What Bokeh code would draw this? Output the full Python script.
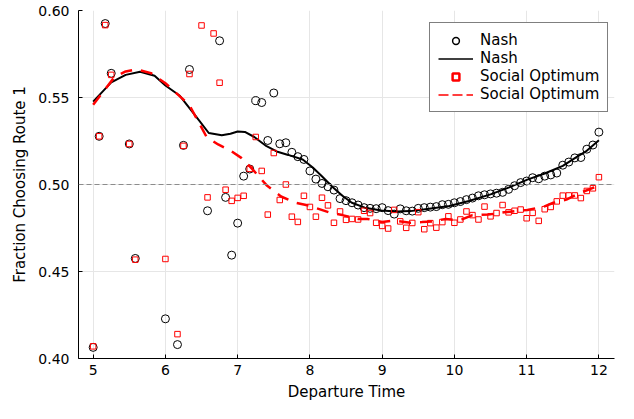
import math
from bokeh.plotting import figure
from bokeh.models import (Range1d, FixedTicker, Span, Legend, LegendItem,
                          ColumnDataSource, NumeralTickFormatter)
from bokeh.embed import file_html
from bokeh.resources import INLINE

# ---- data ----
nash_t = [5.000, 5.083, 5.167, 5.250, 5.500, 5.583, 6.000, 6.167, 6.250, 6.333,
          6.583, 6.750, 6.833, 6.917, 7.000, 7.083, 7.167, 7.250, 7.333, 7.417,
          7.500, 7.583, 7.667, 7.750, 7.833, 7.917, 8.000, 8.083, 8.167, 8.250,
          8.333, 8.417, 8.500, 8.583, 8.667, 8.750, 8.833, 8.917, 9.000, 9.083,
          9.167, 9.250, 9.333, 9.417, 9.500, 9.583, 9.667, 9.750, 9.833, 9.917,
          10.000, 10.083, 10.167, 10.250, 10.333, 10.417, 10.500, 10.583, 10.667, 10.750,
          10.833, 10.917, 11.000, 11.083, 11.167, 11.250, 11.333, 11.417, 11.500, 11.583,
          11.667, 11.750, 11.833, 11.917, 12.000]
nash_v = [0.4064, 0.5277, 0.5925, 0.5639, 0.5233, 0.4575, 0.4228, 0.4080, 0.5225, 0.5661,
          0.4849, 0.5826, 0.4926, 0.4594, 0.4778, 0.5048, 0.5089, 0.5482, 0.5471, 0.5253,
          0.5526, 0.5234, 0.5240, 0.5185, 0.5160, 0.5144, 0.5078, 0.5031, 0.5006, 0.4987,
          0.4968, 0.4919, 0.4907, 0.4895, 0.4882, 0.4867, 0.4863, 0.4861, 0.4867, 0.4850,
          0.4830, 0.4860, 0.4849, 0.4847, 0.4863, 0.4867, 0.4870, 0.4873, 0.4884, 0.4886,
          0.4895, 0.4902, 0.4913, 0.4922, 0.4935, 0.4941, 0.4946, 0.4950, 0.4955, 0.4972,
          0.4993, 0.5011, 0.5020, 0.5039, 0.5033, 0.5048, 0.5055, 0.5066, 0.5111, 0.5129,
          0.5153, 0.5155, 0.5203, 0.5227, 0.5301]

so_t = [5.000, 5.083, 5.167, 5.250, 5.500, 5.583, 6.000, 6.167, 6.250, 6.333,
        6.500, 6.583, 6.667, 6.750, 6.833, 6.917, 7.000, 7.083, 7.167, 7.250,
        7.333, 7.417, 7.500, 7.583, 7.667, 7.750, 7.833, 7.917, 8.000, 8.083,
        8.167, 8.250, 8.333, 8.417, 8.500, 8.583, 8.667, 8.750, 8.833, 8.917,
        9.000, 9.083, 9.167, 9.250, 9.333, 9.417, 9.500, 9.583, 9.667, 9.750,
        9.833, 9.917, 10.000, 10.083, 10.167, 10.250, 10.333, 10.417, 10.500, 10.583,
        10.667, 10.750, 10.833, 10.917, 11.000, 11.083, 11.167, 11.250, 11.333, 11.417,
        11.500, 11.583, 11.667, 11.750, 11.833, 11.917, 12.000]
so_v = [0.4070, 0.5277, 0.5916, 0.5630, 0.5233, 0.4568, 0.4572, 0.4140, 0.5222, 0.5635,
        0.5914, 0.4926, 0.5868, 0.5585, 0.4970, 0.4906, 0.4923, 0.4935, 0.5090, 0.5273,
        0.5078, 0.4827, 0.5181, 0.4911, 0.5000, 0.4815, 0.4785, 0.4935, 0.4871, 0.4815,
        0.4924, 0.4880, 0.4780, 0.4845, 0.4797, 0.4802, 0.4799, 0.4849, 0.4836, 0.4780,
        0.4762, 0.4747, 0.4854, 0.4788, 0.4751, 0.4779, 0.4841, 0.4743, 0.4778, 0.4752,
        0.4784, 0.4817, 0.4780, 0.4799, 0.4845, 0.4824, 0.4799, 0.4873, 0.4817, 0.4836,
        0.4882, 0.4840, 0.4849, 0.4856, 0.4806, 0.4837, 0.4791, 0.4858, 0.4871, 0.4903,
        0.4936, 0.4937, 0.4937, 0.4922, 0.4963, 0.4978, 0.5042]

nash_curve_t = [5.00, 5.25, 5.45, 5.65, 5.85, 6.00, 6.20, 6.42, 6.60, 6.78,
                6.90, 7.00, 7.10, 7.23, 7.40, 7.54, 7.70, 7.90, 8.04, 8.18,
                8.31, 8.45, 8.58, 8.76, 8.99, 9.20, 9.39, 9.65, 9.93, 10.20,
                10.50, 10.75, 11.01, 11.25, 11.50, 11.70, 11.82, 12.00]
nash_curve_v = [0.5476, 0.5587, 0.5630, 0.5648, 0.5625, 0.5569, 0.5510, 0.5393, 0.5296, 0.5283,
                0.5292, 0.5305, 0.5302, 0.5273, 0.5220, 0.5190, 0.5170, 0.5144, 0.5098, 0.5042,
                0.4987, 0.4935, 0.4895, 0.4867, 0.4850, 0.4845, 0.4847, 0.4860, 0.4876, 0.4905,
                0.4943, 0.4982, 0.5028, 0.5063, 0.5107, 0.5160, 0.5190, 0.5255]

so_curve_t = [5.00, 5.29, 5.45, 5.60, 5.80, 6.00, 6.33, 6.57, 6.73, 6.90,
              7.05, 7.20, 7.40, 7.60, 7.80, 8.00, 8.27, 8.45, 8.67, 8.80,
              9.00, 9.17, 9.39, 9.55, 9.70, 9.88, 10.07, 10.25, 10.47, 10.69,
              11.01, 11.24, 11.37, 11.55, 11.73, 11.96]
so_curve_v = [0.5458, 0.5615, 0.5650, 0.5662, 0.5640, 0.5582, 0.5458, 0.5273, 0.5230, 0.5195,
              0.5153, 0.5090, 0.4996, 0.4931, 0.4895, 0.4877, 0.4839, 0.4824, 0.4802, 0.4802,
              0.4784, 0.4793, 0.4780, 0.4784, 0.4788, 0.4802, 0.4793, 0.4824, 0.4827, 0.4840,
              0.4854, 0.4873, 0.4895, 0.4913, 0.4950, 0.4987]

x_ticks = [5, 6, 7, 8, 9, 10, 11, 12]
y_ticks = [0.40, 0.45, 0.50, 0.55, 0.60]
ref_level = 0.5
x_label = "Departure Time"
y_label = "Fraction Choosing Route 1"
nash_label = "Nash"
so_label = "Social Optimum"

FONT = "DejaVu Sans"

p = figure(width=618, height=403, output_backend="svg", toolbar_location=None,
           x_range=Range1d(4.797, 12.216), y_range=Range1d(0.4, 0.6))
p.min_border_left = 78
p.min_border_right = 4
p.min_border_top = 10
p.min_border_bottom = 40
p.outline_line_color = None
p.background_fill_color = "white"
p.border_fill_color = "white"

# grid
for g in (p.xgrid, p.ygrid):
    g.grid_line_color = "#e6e6e6"
    g.grid_line_width = 1
p.xgrid.ticker = FixedTicker(ticks=x_ticks)
p.ygrid.ticker = FixedTicker(ticks=y_ticks)

# axes
p.xaxis.ticker = FixedTicker(ticks=x_ticks)
p.yaxis.ticker = FixedTicker(ticks=y_ticks)
p.yaxis.formatter = NumeralTickFormatter(format="0.00")
for ax in (p.xaxis, p.yaxis):
    ax.axis_line_color = "black"
    ax.axis_line_width = 1
    ax.major_tick_in = 4
    ax.major_tick_out = 0
    ax.minor_tick_line_color = None
    ax.major_tick_line_color = "black"
    ax.major_label_text_font = FONT
    ax.major_label_text_font_size = "14px"
    ax.major_label_text_color = "black"
    ax.axis_label_text_font = FONT
    ax.axis_label_text_font_size = "15px"
    ax.axis_label_text_font_style = "normal"
    ax.axis_label_text_color = "black"
p.xaxis.axis_label = x_label
p.yaxis.axis_label = y_label
p.xaxis.major_label_standoff = 6
p.xaxis.axis_label_standoff = 5
p.yaxis.major_label_standoff = 9
p.yaxis.axis_label_standoff = 6

# reference line
p.add_layout(Span(location=ref_level, dimension="width", line_color="#8c8c8c",
                  line_width=1, line_dash="5 3"))

src_n = ColumnDataSource(data=dict(t=nash_t, v=nash_v))
src_s = ColumnDataSource(data=dict(t=so_t, v=so_v))
src_nc = ColumnDataSource(data=dict(t=nash_curve_t, v=nash_curve_v))
src_sc = ColumnDataSource(data=dict(t=so_curve_t, v=so_curve_v))

p.scatter("t", "v", source=src_n, marker="circle", size=8, fill_color=None,
          line_color="black", line_width=1)
p.line("t", "v", source=src_nc, line_color="black", line_width=2)
p.scatter("t", "v", source=src_s, marker="square", size=5.5, fill_color=None,
          line_color="red", line_width=1)
p.line("t", "v", source=src_sc, line_color="red", line_width=2.5, line_dash="12 9")

# legend-only renderers (no visible marks)
nan = float("nan")
leg_src = ColumnDataSource(data=dict(t=[nan], v=[nan]))
lc = p.scatter("t", "v", source=leg_src, marker="circle", size=7, fill_color=None,
               line_color="black", line_width=1.5)
ll = p.line("t", "v", source=leg_src, line_color="black", line_width=1.3)
ls = p.scatter("t", "v", source=leg_src, marker="square", size=7, fill_color=None,
               line_color="red", line_width=2.5)
ld = p.line("t", "v", source=leg_src, line_color="red", line_width=1.3, line_dash="10 4")

legend = Legend(items=[LegendItem(label=nash_label, renderers=[lc]),
                       LegendItem(label=nash_label, renderers=[ll]),
                       LegendItem(label=so_label, renderers=[ls]),
                       LegendItem(label=so_label, renderers=[ld])],
                location=(351, 246))
legend.label_text_font = FONT
legend.label_text_font_size = "15px"
legend.label_text_color = "black"
legend.glyph_width = 35
legend.glyph_height = 17
legend.label_height = 17
legend.spacing = 0
legend.padding = 8
legend.label_standoff = 7
legend.margin = 0
legend.border_line_color = "black"
legend.border_line_width = 1
legend.background_fill_color = "white"
legend.background_fill_alpha = 1
p.add_layout(legend)

open("out.html", "w").write(file_html(p, INLINE))
